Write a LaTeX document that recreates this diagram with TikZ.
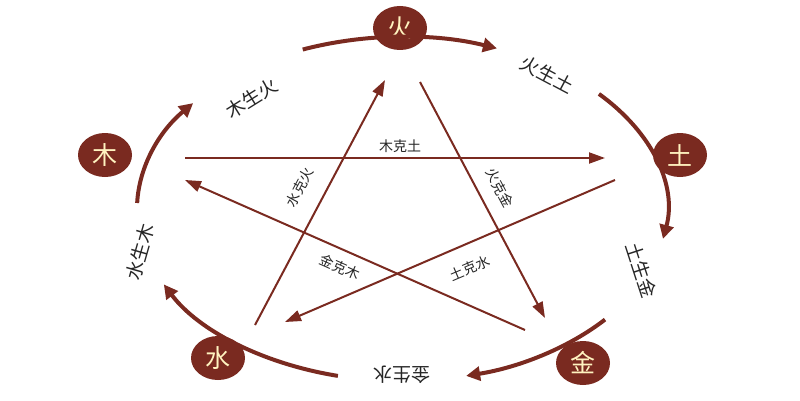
\documentclass[tikz,border=0pt]{standalone}
\usepackage{fontspec}
\setmainfont{Noto Sans CJK SC}
\usetikzlibrary{arrows.meta,shapes.geometric}
\definecolor{dr}{HTML}{7A2A20}
\definecolor{cream}{HTML}{FFF3C0}
\begin{document}
\begin{tikzpicture}[x=1pt,y=1pt,
  elem/.style={ellipse,fill=dr,text=cream,minimum width=54,minimum height=44,inner sep=0,font=\fontsize{25}{25}\selectfont},
  ring/.style={dr,line width=4,-{Triangle[length=14,width=14]}},
  star/.style={dr,line width=2,-{Triangle[length=16,width=11]}},
  lab/.style={font=\fontsize{19}{19}\selectfont,text=black!85},
  slab/.style={font=\fontsize{14}{14}\selectfont,text=black!85,fill=white,inner sep=1}]
\useasboundingbox (0,0) rectangle (800,400);
\coordinate (c) at (402,191);
\node[elem] (huo) at (400,372) {火};
\node[elem] (tu) at (680,245) {土};
\node[elem] (jin) at (583,37) {金};
\node[elem] (shui) at (218,42) {水};
\node[elem] (mu) at (105,245) {木};
% ring
\draw[ring] (c)+(178:265 and 172) arc[start angle=178,end angle=142,x radius=265,y radius=172];
\draw[ring] (c)+(112:265 and 172) arc[start angle=112,end angle=69,x radius=265,y radius=172];
\draw[ring] (c)+(42:265 and 172) arc[start angle=42,end angle=-10,x radius=265,y radius=172];
\draw[ring] (c)+(-40:265 and 172) arc[start angle=-40,end angle=-76,x radius=265,y radius=172];
\draw[ring] (c)+(-104:265 and 172) arc[start angle=-104,end angle=-154,x radius=265,y radius=172];
\node[lab,rotate=32] (l1) at (252,302) {木生火};
\node[lab,rotate=-28] (l2) at (547,325) {火生土};
\node[lab,rotate=-72] (l3) at (642,130) {土生金};
\node[lab,rotate=180] (l4) at (402,25) {金生水};
\node[lab,rotate=74] (l5) at (140,148) {水生木};
% star
\coordinate (a1) at (185,242); \coordinate (a2) at (605,242);
\coordinate (b1) at (615,220); \coordinate (b2) at (285,78);
\coordinate (d1) at (255,75);  \coordinate (d2) at (385,320);
\coordinate (e1) at (420,318); \coordinate (e2) at (545,82);
\coordinate (f1) at (525,70);  \coordinate (f2) at (185,220);
\draw[star] (a1) -- (a2);
\draw[star] (b1) -- (b2);
\draw[star] (d1) -- (d2);
\draw[star] (e1) -- (e2);
\draw[star] (f1) -- (f2);
\node[slab] (k1) at (400,254) {木克土};
\node[slab,rotate=62] (k2) at (300,213) {水克火};
\node[slab,rotate=-62] (k3) at (500,212) {火克金};
\node[slab,rotate=-24] (k4) at (340,133) {金克木};
\node[slab,rotate=23] (k5) at (470,132) {土克水};
\end{tikzpicture}
\end{document}
